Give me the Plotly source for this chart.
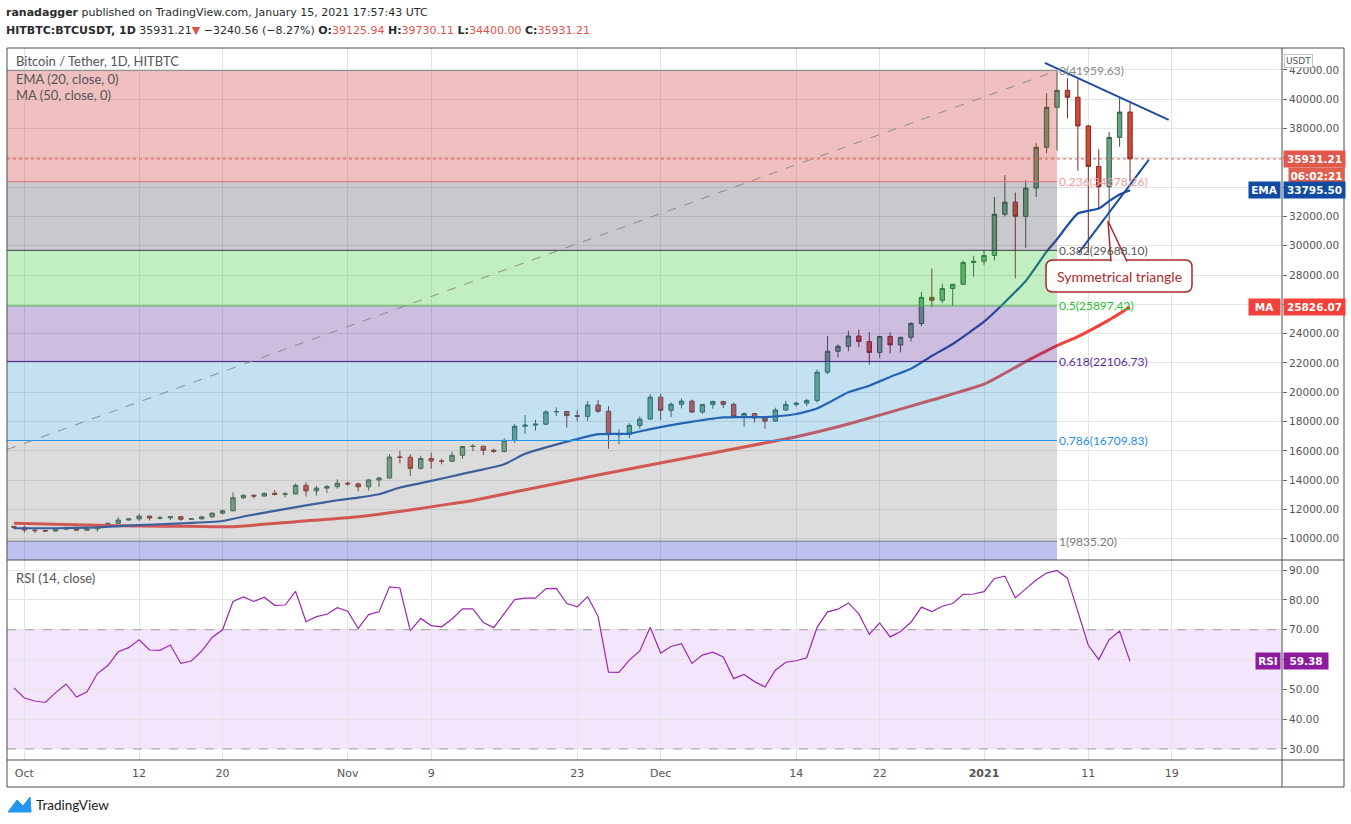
"""
BTC/USDT daily chart with Fibonacci retracement, EMA20, MA50 and RSI pane
(TradingView-style snapshot rebuilt in Plotly)
"""

import pandas as pd
import plotly.graph_objects as go

# ---- data ---------------------------------------------------------------
dates = pd.date_range('2020-09-30', '2021-01-15', freq='D')

opens = [10845,
         10780, 10600, 10560, 10530, 10660, 10780, 10590, 10680, 10910, 11060,
         11280, 11360, 11550, 11420, 11430, 11510, 11330, 11360, 11500, 11750,
         11910, 12800, 12970, 12920, 13110, 13030, 13060, 13650, 13270, 13460, 13560,
         13800, 13750, 13550, 14020, 14150, 15580, 15570, 14810, 15480, 15310,
         15290, 15700, 16300, 16320, 16040, 15960, 16720, 17680, 17760, 17820,
         18660, 18690, 18410, 18360, 19130, 18710, 17100, 17120, 17740, 18170,
         19670, 18770, 19180, 19400, 18650, 19170, 19370, 19180, 18330, 18550,
         18250, 18030, 18790, 19170, 19260, 19440, 21370, 22800, 23140, 23840,
         23460, 22720, 23810, 23230, 23750, 24700, 26480, 26280, 27080, 27370, 28860,
         28940, 29340, 32150, 32980, 32010, 33940, 36720, 39450, 40610, 40140,
         38180, 35420, 34030, 37400, 39125.94]
highs = [10880,
         10900, 10640, 10620, 10690, 10800, 10800, 10700, 10960, 11120, 11470,
         11420, 11700, 11560, 11560, 11560, 11540, 11400, 11530, 11800, 11990,
         13170, 13040, 13030, 13140, 13330, 13210, 13770, 13860, 13620, 13680, 14060,
         13900, 13830, 14070, 14240, 15790, 15990, 15770, 15670, 15880, 15460,
         15960, 16340, 16470, 16330, 16150, 16860, 17850, 18450, 18130, 18770,
         18970, 18700, 18760, 19400, 19480, 19060, 17480, 17880, 18350, 19880,
         19910, 19310, 19580, 19500, 19200, 19430, 19410, 19300, 18640, 18570,
         18280, 18950, 19420, 19350, 19560, 21560, 23840, 23270, 24200, 24280,
         24100, 23850, 24100, 23800, 24780, 26850, 28460, 27400, 27400, 28990, 29320,
         29650, 33330, 34830, 33630, 34470, 37010, 40410, 41959.63, 41430, 41370,
         38260, 36590, 37790, 40140, 39730.11]
lows = [10680,
        10420, 10370, 10500, 10490, 10620, 10520, 10560, 10500, 10840, 11040,
        11230, 11220, 11250, 11300, 11270, 11230, 11280, 11330, 11420, 11680,
        11890, 12720, 12760, 12880, 12950, 12820, 13040, 12880, 12950, 13130, 13420,
        13620, 13230, 13300, 13550, 14100, 15150, 14290, 14720, 14780, 15080,
        15270, 15460, 15980, 15720, 15860, 15890, 16560, 17170, 17380, 17760,
        18380, 17590, 18000, 18050, 18590, 16150, 16470, 16880, 17520, 18150,
        18110, 18320, 18900, 18580, 18530, 18880, 18920, 18220, 17650, 17930,
        17520, 18000, 18720, 19000, 19050, 19290, 21230, 22380, 22800, 23080,
        21890, 22360, 22650, 22720, 23460, 24520, 25800, 26080, 25880, 27330, 27890,
        28700, 29000, 32000, 27780, 29850, 33330, 36310, 36490, 38700, 35130,
        29490, 32490, 31650, 36760, 34400.00]
closes = [10780,
          10600, 10560, 10530, 10660, 10780, 10590, 10680, 10910, 11060, 11280,
          11360, 11550, 11420, 11430, 11510, 11330, 11360, 11500, 11750, 11910,
          12800, 12970, 12920, 13110, 13030, 13060, 13650, 13270, 13460, 13560, 13800,
          13750, 13550, 14020, 14150, 15580, 15570, 14810, 15480, 15310, 15290,
          15700, 16300, 16320, 16040, 15960, 16720, 17680, 17760, 17820, 18660,
          18690, 18410, 18360, 19130, 18710, 17100, 17120, 17740, 18170, 19670,
          18770, 19180, 19400, 18650, 19170, 19370, 19180, 18330, 18550, 18250,
          18030, 18790, 19170, 19260, 19440, 21370, 22800, 23140, 23840, 23460,
          22720, 23810, 23230, 23750, 24700, 26480, 26280, 27080, 27370, 28860, 28940,
          29340, 32150, 32980, 32010, 33940, 36720, 39450, 40610, 40140, 38180,
          35420, 34030, 37400, 39125.94, 35931.21]

ema_dates = ['2020-09-30', '2020-10-04', '2020-10-08', '2020-10-12', '2020-10-16',
             '2020-10-20', '2020-10-22', '2020-10-25', '2020-10-28', '2020-10-31',
             '2020-11-02', '2020-11-04', '2020-11-06', '2020-11-09', '2020-11-12',
             '2020-11-14', '2020-11-16', '2020-11-18', '2020-11-20', '2020-11-23',
             '2020-11-25', '2020-11-28', '2020-11-30', '2020-12-03', '2020-12-07',
             '2020-12-11', '2020-12-14', '2020-12-16', '2020-12-17', '2020-12-19',
             '2020-12-21', '2020-12-23', '2020-12-25', '2020-12-27', '2020-12-29',
             '2021-01-01', '2021-01-03', '2021-01-05', '2021-01-07', '2021-01-08',
             '2021-01-10', '2021-01-12', '2021-01-13', '2021-01-14', '2021-01-15']
ema_vals = [10720, 10720, 10785, 10940, 11050,
            11215, 11520, 11910, 12280, 12630,
            12810, 13040, 13500, 13950, 14430,
            14740, 15090, 15800, 16240, 16810,
            17150, 17180, 17490, 17880, 18290,
            18310, 18520, 18900, 19250, 20000,
            20450, 21050, 21600, 22480, 23300,
            24820, 26150, 27600, 29600, 30450,
            32200, 32540, 33050, 33500, 33795.50]

ma_dates = ['2020-09-30', '2020-10-08', '2020-10-12', '2020-10-17', '2020-10-21',
            '2020-10-27', '2020-11-02', '2020-11-07', '2020-11-11', '2020-11-13',
            '2020-11-25', '2020-12-05', '2020-12-14', '2020-12-19', '2020-12-27',
            '2021-01-01', '2021-01-05', '2021-01-08', '2021-01-10', '2021-01-13',
            '2021-01-15']
ma_vals = [11060, 10920, 10875, 10850, 10830,
           11170, 11510, 11970, 12400, 12620,
           14360, 15720, 16970, 17840, 19470,
           20550, 22090, 23180, 23800, 24940,
           25826.07]

rsi_vals = [50.5,
            47.1, 46.1, 45.6, 48.9, 51.8, 47.4, 49.2, 55.3, 58.0, 62.6,
            64.0, 66.6, 63.2, 63.1, 64.9, 58.7, 59.5, 62.8, 67.4, 70.0,
            79.5, 81.0, 79.5, 80.9, 78.2, 78.3, 82.9, 72.7, 74.4, 75.2, 77.4,
            76.2, 70.4, 75.1, 76.0, 84.4, 84.0, 69.6, 73.8, 71.4, 71.0,
            73.6, 77.0, 77.0, 72.4, 70.7, 75.5, 80.1, 80.6, 80.6, 83.8,
            83.9, 78.8, 77.7, 81.1, 74.5, 55.8, 55.7, 59.8, 62.9, 70.8,
            62.2, 64.4, 65.3, 58.7, 61.5, 62.5, 60.9, 53.6, 55.0, 52.6,
            50.8, 56.4, 59.1, 59.6, 60.6, 70.8, 76.0, 76.9, 79.0, 75.3,
            68.5, 72.3, 67.6, 69.4, 72.5, 77.6, 76.1, 77.9, 78.8, 81.9, 82.0,
            82.8, 87.2, 88.0, 80.7, 83.7, 86.7, 89.0, 89.9, 87.3, 76.2,
            64.8, 60.0, 66.7, 69.6, 59.38]

for arr in (opens, highs, lows, closes, rsi_vals):
    assert len(arr) == len(dates), len(arr)

# fibonacci retracement drawing (low -> high)
fib_start, fib_end = '2020-09-05', '2021-01-08'
fib_ratios = ['0', '0.236', '0.382', '0.5', '0.618', '0.786', '1', '1.618']
fib_prices = [41959.63, 34378.26, 29688.10, 25897.42, 22106.73, 16709.83, 9835.20, -10017.70]

# symmetrical triangle trendlines
tri_upper_x = ['2021-01-06 20:00', '2021-01-18 17:00']
tri_upper_y = [42480, 38590]
tri_lower_x = ['2021-01-10 02:00', '2021-01-16 19:00']
tri_lower_y = [29510, 35860]

last_price = 35931.21
last_ema = 33795.50
last_ma = 25826.07
last_rsi = 59.38

x_ticks = ['2020-10-01', '2020-10-12', '2020-10-20', '2020-11-01', '2020-11-09', '2020-11-23',
           '2020-12-01', '2020-12-14', '2020-12-22', '2021-01-01', '2021-01-11', '2021-01-19']
x_labels = ['Oct', '12', '20', 'Nov', '9', '23', 'Dec', '14', '22', '<b>2021</b>', '11', '19']
price_ticks = list(range(10000, 42001, 2000))
rsi_ticks = [30, 40, 50, 60, 70, 80, 90]

# ---- styling --------------------------------------------------------------
W, H = 1351, 824
L, R, T, B = 7, 1282, 48, 760          # plot area in page pixels
SPLIT = 560                              # border between price and RSI panes


def px(x):
    return (x - L) / (R - L)


def py(y):
    return (B - y) / (B - T)


zone_fill = ['rgba(205,45,45,0.3)', 'rgba(75,72,88,0.3)', 'rgba(52,202,52,0.3)',
             'rgba(88,35,148,0.3)', 'rgba(58,155,212,0.3)', 'rgba(138,138,138,0.3)',
             'rgba(45,45,198,0.3)']
level_line = ['#8a8a8a', '#e57373', '#3b3b4f', '#4caf50', '#4a1e8a', '#2196f3', '#787878']
level_text = ['#8a8a8a', '#f09c9c', '#555555', '#2cbf2c', '#5b2d96', '#2a8fe0', '#7a7a7a']

TXT = 'Lato, Open Sans, sans-serif'
HDR = 'DejaVu Sans, sans-serif'
AX = 'DejaVu Sans, Verdana, sans-serif'
RED = '#e0574b'

fig = go.Figure()

fig.add_trace(go.Candlestick(
    x=dates, open=opens, high=highs, low=lows, close=closes,
    increasing=dict(fillcolor='#6aa584', line=dict(color='#2f5e40', width=1)),
    decreasing=dict(fillcolor='#d64a38', line=dict(color='#7a2a22', width=1)),
    xaxis='x', yaxis='y', showlegend=False, hoverinfo='skip'))
fig.add_trace(go.Scatter(x=ma_dates, y=ma_vals, mode='lines',
                         line=dict(color='#f0433a', width=3, shape='spline', smoothing=0.5),
                         xaxis='x', yaxis='y', showlegend=False, hoverinfo='skip'))
fig.add_trace(go.Scatter(x=ema_dates, y=ema_vals, mode='lines',
                         line=dict(color='#1b4ea6', width=2.2, shape='spline', smoothing=0.5),
                         xaxis='x', yaxis='y', showlegend=False, hoverinfo='skip'))
fig.add_trace(go.Scatter(x=dates, y=rsi_vals, mode='lines',
                         line=dict(color='#9c27b0', width=1.2),
                         xaxis='x2', yaxis='y2', showlegend=False, hoverinfo='skip'))

shapes = []
# fib zones drawn translucent over the candles
for k in range(len(fib_prices) - 1):
    shapes.append(dict(type='rect', xref='x', yref='y', x0=fib_start, x1=fib_end,
                       y0=fib_prices[k + 1], y1=fib_prices[k], fillcolor=zone_fill[k],
                       line=dict(width=0), layer='above'))
for k in range(7):
    shapes.append(dict(type='line', xref='x', yref='y', x0=fib_start, x1=fib_end,
                       y0=fib_prices[k], y1=fib_prices[k],
                       line=dict(color=level_line[k], width=1), layer='above'))
shapes.append(dict(type='line', xref='x', yref='y', x0=fib_start, x1=fib_end,
                   y0=fib_prices[6], y1=fib_prices[0],
                   line=dict(color='#8c8c8c', width=1, dash='dash'), layer='above'))
# last price dotted line
shapes.append(dict(type='line', xref='paper', yref='y', x0=0, x1=1, y0=last_price, y1=last_price,
                   line=dict(color='#e0534a', width=1, dash='dot'), layer='above'))
# triangle
for xs, ys in ((tri_upper_x, tri_upper_y), (tri_lower_x, tri_lower_y)):
    shapes.append(dict(type='line', xref='x', yref='y', x0=xs[0], x1=xs[1], y0=ys[0], y1=ys[1],
                       line=dict(color='#1f4c9c', width=2), layer='above'))
# RSI band + 30/70 lines
shapes.append(dict(type='rect', xref='paper', yref='y2', x0=0, x1=1, y0=30, y1=70,
                   fillcolor='#f3e6fc', line=dict(width=0), layer='below'))
for lv in (30, 70):
    shapes.append(dict(type='line', xref='paper', yref='y2', x0=0, x1=1, y0=lv, y1=lv,
                       line=dict(color='#a0a0a0', width=1, dash='dash'), layer='above'))

# callout box "Symmetrical triangle"
bx0, bx1, by0, by1, rr = 1046, 1192, 260, 292, 7
rx, ry = rr / (R - L), rr / (B - T)
X0, X1, Y0, Y1 = px(bx0), px(bx1), py(by1), py(by0)
box = (f'M {X0 + rx},{Y1} L {X1 - rx},{Y1} Q {X1},{Y1} {X1},{Y1 - ry} '
       f'L {X1},{Y0 + ry} Q {X1},{Y0} {X1 - rx},{Y0} L {X0 + rx},{Y0} '
       f'Q {X0},{Y0} {X0},{Y0 + ry} L {X0},{Y1 - ry} Q {X0},{Y1} {X0 + rx},{Y1} Z')
shapes.append(dict(type='path', xref='paper', yref='paper', path=box,
                   fillcolor='rgba(255,255,255,0.92)', line=dict(color='#a8282c', width=1.5),
                   layer='above'))
ptr = f'M {px(1111)},{py(261.5)} L {px(1108)},{py(221)} L {px(1127)},{py(261.5)}'
shapes.append(dict(type='path', xref='paper', yref='paper', path=ptr,
                   fillcolor='rgba(255,255,255,0.92)', line=dict(color='#a8282c', width=1.5),
                   layer='above'))

# frame of the chart
FR, FB = px(1344), py(787)
for x0, y0, x1, y1 in ((0, FB, FR, FB), (0, 1, FR, 1), (0, FB, 0, 1), (FR, FB, FR, 1),
                       (1, FB, 1, 1), (0, py(SPLIT), FR, py(SPLIT)), (0, 0, FR, 0)):
    shapes.append(dict(type='line', xref='paper', yref='paper', x0=x0, y0=y0, x1=x1, y1=y1,
                       line=dict(color='#4d4d4d', width=1), layer='above'))

# TradingView logo mark
logo = (f'M {px(8)},{py(812)} L {px(17)},{py(800)} L {px(23)},{py(806)} '
        f'L {px(30)},{py(797)} L {px(31)},{py(812)} Z')
shapes.append(dict(type='path', xref='paper', yref='paper', path=logo,
                   fillcolor='#2196f3', line=dict(color='#2196f3', width=1), layer='above'))

ann = []


def text(x, y, s, size=12, color='#555', family=TXT, anchor='left'):
    ann.append(dict(xref='paper', yref='paper', x=px(x), y=py(y), text=s, showarrow=False,
                    xanchor=anchor, yanchor='middle', font=dict(size=size, color=color, family=family)))


red = "<span style='color:#e0534a'>"
text(4, 13, '<b>ranadagger</b> published on TradingView.com, January 15, 2021 17:57:43 UTC',
     size=11, color='#2b2b2b', family=HDR)
text(4, 30, f'<b>HITBTC:BTCUSDT, 1D</b> 35931.21{red}\u25bc</span> \u22123240.56 (\u22128.27%) '
     f'<b>O:</b>{red}39125.94</span> <b>H:</b>{red}39730.11</span> '
     f'<b>L:</b>{red}34400.00</span> <b>C:</b>{red}35931.21</span>',
     size=11, color='#2b2b2b', family=HDR)
text(14, 61, 'Bitcoin / Tether, 1D, HITBTC', size=13)
text(14, 79, 'EMA (20, close, 0)', size=13)
text(14, 95, 'MA (50, close, 0)', size=13)
text(14, 578, 'RSI (14, close)', size=13)
text(34, 805, 'TradingView', size=13.5, color='#222')
text(1119, 276, 'Symmetrical triangle', size=14, color='#b0282a', anchor='center')

# fib level labels
for k in range(7):
    ann.append(dict(xref='x', yref='y', x=fib_end, y=fib_prices[k], xanchor='left', xshift=0,
                    yanchor='middle', showarrow=False,
                    text=f'{fib_ratios[k]}({fib_prices[k]:.2f})',
                    font=dict(size=12, color=level_text[k], family=TXT)))


def badge(y, s, bg, yref='y', x=1283, anchor='left', width=57):
    ann.append(dict(xref='paper', yref=yref, x=px(x), y=y, xanchor=anchor, yanchor='middle',
                    text=f'<b>{s}</b>', showarrow=False, bgcolor=bg, borderpad=2, width=width,
                    align='center', font=dict(size=10.5, color='white', family=AX)))


badge(last_price, f'{last_price:.2f}', RED)
badge(py(176), '06:02:21', '#e0604f', yref='paper', x=1288, width=51)
badge(last_ema, f'{last_ema:.2f}', '#0f4aa3')
badge(last_ema, 'EMA', '#0f4aa3', x=1280.5, anchor='right', width=27)
badge(last_ma, f'{last_ma:.2f}', '#f2403a')
badge(last_ma, 'MA', '#f2403a', x=1280.5, anchor='right', width=27)
badge(last_rsi, f'{last_rsi:.2f}', '#8e1a9f', yref='y2', width=40)
badge(last_rsi, 'RSI', '#8e1a9f', yref='y2', x=1280.5, anchor='right', width=20)
ann.append(dict(xref='paper', yref='paper', x=px(1313), y=py(54), text='USDT', showarrow=False,
                bgcolor='white', bordercolor='#c4c4c4', borderwidth=1, borderpad=1,
                font=dict(size=9, color='#555', family=AX)))

x_range = ['2020-09-29 08:00', '2021-01-29 13:40']
grid = '#e4e4e4'
fig.update_layout(
    width=W, height=H, paper_bgcolor='white', plot_bgcolor='white',
    margin=dict(l=L, r=W - R, t=T, b=H - B),
    boxgap=0.4, showlegend=False,
    shapes=shapes, annotations=ann,
    xaxis=dict(domain=[0, 1], anchor='y', range=x_range, type='date',
               tickvals=x_ticks, ticktext=[''] * len(x_ticks), showticklabels=False,
               showgrid=True, gridcolor=grid, zeroline=False, showline=False,
               rangeslider=dict(visible=False), fixedrange=True),
    yaxis=dict(domain=[py(SPLIT), 1], anchor='x', side='right', range=[8553, 43500],
               tickvals=price_ticks,
               ticktext=['' if v in (26000, 34000, 36000) else f'{v:.2f}' for v in price_ticks],
               ticks='outside', ticklen=4, tickcolor='#666',
               tickfont=dict(size=10.5, color='#555', family=AX),
               showgrid=True, gridcolor=grid, zeroline=False, showline=False),
    xaxis2=dict(domain=[0, 1], anchor='y2', matches='x', range=x_range, type='date',
                tickvals=x_ticks, ticktext=x_labels, ticks='', ticklabelstandoff=5,
                tickfont=dict(size=11, color='#555', family=AX),
                showgrid=True, gridcolor=grid, zeroline=False, showline=False),
    yaxis2=dict(domain=[0, py(SPLIT)], anchor='x2', side='right', range=[26.3, 93.4],
                tickvals=rsi_ticks,
                ticktext=['' if v == 60 else f'{v:.2f}' for v in rsi_ticks],
                ticks='outside', ticklen=4, tickcolor='#666',
                tickfont=dict(size=10.5, color='#555', family=AX),
                showgrid=True, gridcolor=grid, zeroline=False, showline=False),
)

# the page body has a default 8px margin; remove it so pixel positions line up
fig.write_html("out.html", config={'displayModeBar': False},
               post_script="document.body.style.margin='0px';")
